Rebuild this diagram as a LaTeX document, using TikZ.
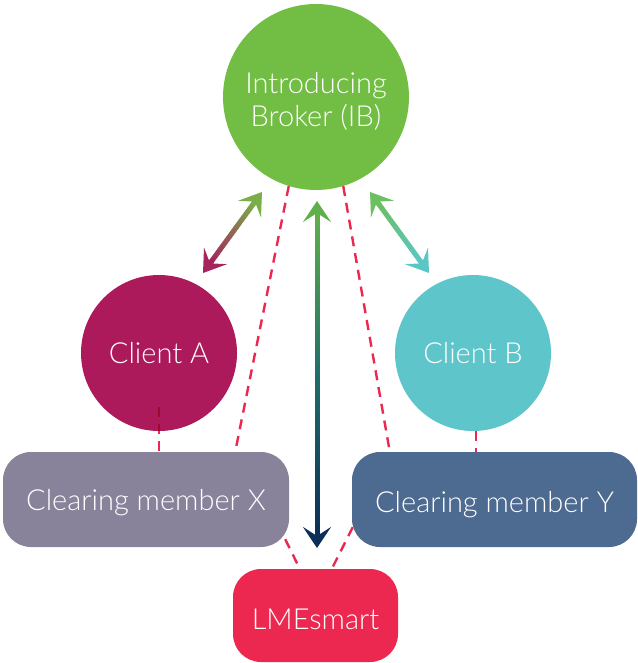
\documentclass[tikz,border=0pt]{standalone}
\usepackage{fontspec}
\setmainfont{Lato Light}
\usetikzlibrary{arrows.meta,calc}
\definecolor{ibgreen}{HTML}{72BE45}
\definecolor{camag}{HTML}{AC1A5C}
\definecolor{cbteal}{HTML}{5EC6CA}
\definecolor{cmxgray}{HTML}{88839B}
\definecolor{cmyblue}{HTML}{4D6A90}
\definecolor{lmered}{HTML}{EC2850}
\definecolor{dashred}{HTML}{EC2850}
\definecolor{dashdark}{HTML}{A0082E}
\definecolor{laTop}{HTML}{7AAE48}
\definecolor{laBot}{HTML}{A6245B}
\definecolor{raTop}{HTML}{6CBF62}
\definecolor{raBot}{HTML}{5BC6C6}
\definecolor{maTop}{HTML}{5FB04A}
\definecolor{maMid}{HTML}{1F6E6A}
\definecolor{maBot}{HTML}{0B2F58}
\newcommand{\lowered}[2]{\raisebox{-#1}[\height][\depth]{#2}}
\tikzset{
  circ/.style={circle, inner sep=0pt, text=white, align=center, font=\fontsize{29}{33}\selectfont},
  box/.style={rectangle, rounded corners=28pt, inner sep=0pt, text=white, align=center, font=\fontsize{29}{33}\selectfont},
  link/.style={draw=dashred, line width=2.4pt, dash pattern=on 10pt off 7pt},
  tip/.style={-{Stealth[length=21pt, width=28pt, inset=9pt]}, line width=5pt},
}
% gradient shaft: #1 start coord, #2 end coord, #3 start color, #4 end color
\newcommand{\gradshaft}[4]{%
  \foreach \i in {0,...,39}{%
    \pgfmathsetmacro{\pa}{\i/40}%
    \pgfmathsetmacro{\pb}{(\i+1.3)/40}%
    \pgfmathsetmacro{\pc}{100*(\i+0.5)/40}%
    \draw[line width=5pt, draw={#4!\pc!#3}] ($(#1)!\pa!(#2)$) -- ($(#1)!\pb!(#2)$);
  }%
}
\begin{document}
\begin{tikzpicture}[x=1pt,y=-1pt]
\useasboundingbox (0,0) rectangle (637,663);

% nodes
\node[circ, fill=ibgreen, minimum size=186pt] (ib) at (316,97) {\lowered{4pt}{Introducing}\\\lowered{4pt}{Broker (IB)}};
\node[circ, fill=camag, minimum size=156pt] (ca) at (159,353) {Client A};
\node[circ, fill=cbteal, minimum size=156pt] (cb) at (473,353) {Client B};
\node[box, fill=cmxgray, minimum width=286pt, minimum height=95pt] (cmx) at (146,499.5) {\lowered{3pt}{Clearing member X}};
\node[box, fill=cmyblue, minimum width=285pt, minimum height=95pt] (cmy) at (494.5,499.5) {\lowered{5pt}{Clearing member Y}};
\node[box, fill=lmered, minimum width=165pt, minimum height=93pt] (lme) at (315.5,615.5) {\lowered{4pt}{LMEsmart}};

% dashed links
\draw[link] (ib.253) -- ([xshift=-54pt]cmx.north east);
\draw[link] (ib.287) -- ([xshift=38pt]cmy.north west);
\draw[link] ([yshift=-54pt]ca.center) -- (ca.center |- cmx.north);
\begin{scope}
  \clip (ca) circle (78pt);
  \draw[link, draw=dashdark] ([yshift=-54pt]ca.center) -- (ca.center |- cmx.north);
\end{scope}
\draw[link] ([xshift=3pt]cb.south) -- ([xshift=3pt]cb.south |- cmy.north);
\draw[link] ([xshift=-4pt,yshift=8pt]cmx.south east) -- ([xshift=67pt]lme.north west);
\draw[link] ([xshift=1pt,yshift=20pt]cmy.south west) -- ([xshift=99pt]lme.north west);

% arrow end coordinates
\coordinate (la1) at (262,192);
\coordinate (la2) at (203,273);
\coordinate (ra1) at (370,192);
\coordinate (ra2) at (429,273);
\coordinate (ma1) at (317,201);
\coordinate (ma2) at (317,548);

% left arrow
\gradshaft{$(la1)!14pt!(la2)$}{$(la2)!14pt!(la1)$}{laTop}{laBot}
\draw[tip, laTop] ($(la1)!16pt!(la2)$) -- (la1);
\draw[tip, laBot] ($(la2)!16pt!(la1)$) -- (la2);
% right arrow
\gradshaft{$(ra1)!14pt!(ra2)$}{$(ra2)!14pt!(ra1)$}{raTop}{raBot}
\draw[tip, raTop] ($(ra1)!16pt!(ra2)$) -- (ra1);
\draw[tip, raBot] ($(ra2)!16pt!(ra1)$) -- (ra2);
% middle arrow (two-stage gradient)
\coordinate (mm) at ($(ma1)!0.5!(ma2)$);
\gradshaft{$(ma1)!14pt!(ma2)$}{mm}{maTop}{maMid}
\gradshaft{mm}{$(ma2)!14pt!(ma1)$}{maMid}{maBot}
\draw[tip, maTop] ($(ma1)!16pt!(ma2)$) -- (ma1);
\draw[tip, maBot] ($(ma2)!16pt!(ma1)$) -- (ma2);
\end{tikzpicture}
\end{document}
